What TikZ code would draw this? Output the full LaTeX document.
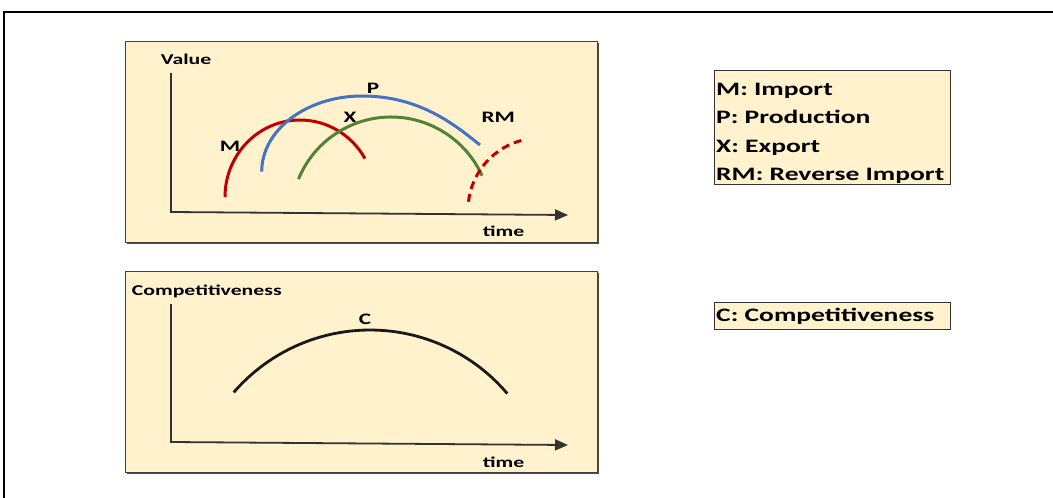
\documentclass[tikz,border=0pt]{standalone}
\usepackage{fontspec}
\setmainfont{Carlito}[FakeStretch=1.45]
\usetikzlibrary{arrows.meta,calc}
\definecolor{panelfill}{HTML}{FFF2CC}
\definecolor{mred}{HTML}{C00000}
\definecolor{pblue}{HTML}{4472C4}
\definecolor{xgreen}{HTML}{548235}
\definecolor{axisgray}{HTML}{333333}
\tikzset{
  panel/.style={draw=black!75, line width=1.2pt, fill=panelfill, inner sep=0pt, anchor=north west},
  shadowbox/.style={fill=black!70, inner sep=0pt, anchor=north west},
  axis/.style={draw=axisgray, line width=1.8pt, -{Triangle[length=13pt,width=11pt]}},
  curve/.style={line width=3pt},
  axlabel/.style={font=\bfseries\fontsize{15}{18}\selectfont, inner sep=0pt, anchor=base west},
  clabel/.style={font=\bfseries\fontsize{16}{19}\selectfont, inner sep=0pt, anchor=base},
  legtext/.style={font=\bfseries\fontsize{19}{23}\selectfont, inner sep=0pt, anchor=base west},
}
\begin{document}
\begin{tikzpicture}[x=1pt,y=-1pt]
\useasboundingbox (0,0) rectangle (1053,498);
% outer frame
\draw[line width=1.5pt] (4,498) -- (4,12) -- (1053,12);

% panel 1
\node[shadowbox, minimum width=472pt, minimum height=201pt] (sh1) at (127,43) {};
\node[panel, minimum width=472pt, minimum height=201pt] (p1) at (125,41) {};
% panel 2
\node[shadowbox, minimum width=472pt, minimum height=201pt] (sh2) at (127,273) {};
\node[panel, minimum width=472pt, minimum height=201pt] (p2) at (125,271) {};

% axes panel 1
\coordinate (y1) at (171,73);
\coordinate (o1) at (171,212);
\coordinate (x1) at (568,215);
\draw[axis] (y1) -- (o1) -- (x1);
\node[axlabel] (value) at (160.7,64.3) {Value};
\node[axlabel] (time1) at (482.7,236.7) {time};

% curves panel 1
% M (import)
\draw[curve, mred] (225,197) arc[start angle=180, end angle=330, x radius=75, y radius=77];
% P (production)
\coordinate (pS) at (261.7,171.7);
\coordinate (pA) at (362,96);
\coordinate (pE) at (480,145);
\draw[curve, pblue] (pS) .. controls (261.7,129.9) and (306.6,96) .. (pA)
                         .. controls (420,96) and (455,125) .. (pE);
% X (export)
\draw[curve, xgreen] ($(391,217)+(202.3:100)$) arc[start angle=202.3, end angle=335.6, radius=100];
% RM (reverse import)
\draw[curve, mred, dash pattern=on 8pt off 5pt] ($(540,210)+(186.6:72)$) arc[start angle=186.6, end angle=257, radius=72];

\node[clabel] (lM) at (230,151) {M};
\node[clabel] (lP) at (373,93.3) {P};
\node[clabel] (lX) at (350,122.3) {X};
\node[clabel] (lRM) at (498.3,122.3) {RM};

% axes panel 2
\coordinate (y2) at (171,304);
\coordinate (o2) at (171,442);
\coordinate (x2) at (568,445);
\draw[axis] (y2) -- (o2) -- (x2);
\node[axlabel] (comp) at (131.7,295) {Competitiveness};
\node[axlabel] (time2) at (482.7,467.3) {time};

\draw[curve, line width=2.8pt, black!90] ($(370,510)+(220.8:180)$) arc[start angle=220.8, end angle=319.7, radius=180];
\node[clabel] (lC) at (365,324) {C};

% legends
\node[draw=black!80, line width=1pt, fill=panelfill, inner sep=0pt, anchor=north west, minimum width=236pt, minimum height=114pt] (leg1) at (714,70) {};
\node[legtext] (t1) at (716,95) {M: Import};
\node[legtext] (t2) at (716,123.5) {P: Production};
\node[legtext] (t3) at (716,152) {X: Export};
\node[legtext] (t4) at (716,180.5) {RM: Reverse Import};

\node[draw=black!80, line width=1pt, fill=panelfill, inner sep=0pt, anchor=north west, minimum width=236pt, minimum height=27pt] (leg2) at (714,302) {};
\node[legtext] (t5) at (716,321) {C: Competitiveness};
\end{tikzpicture}
\end{document}
